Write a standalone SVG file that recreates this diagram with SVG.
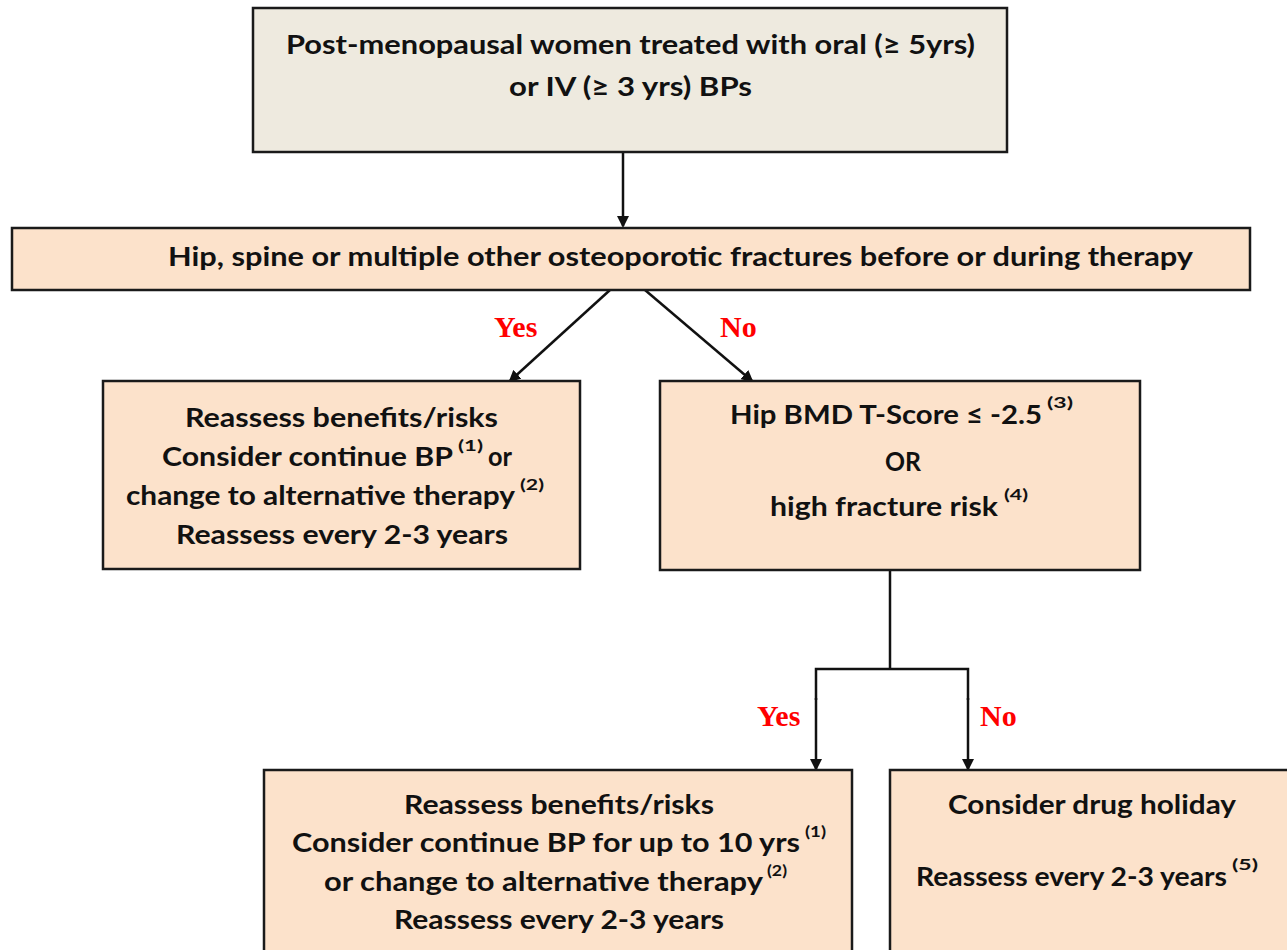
<svg xmlns="http://www.w3.org/2000/svg" width="1287" height="950" viewBox="0 0 1287 950">
  <style>
    .box { stroke: #1a1a1a; stroke-width: 2.5; }
    .grey { fill: #eeeadf; }
    .peach { fill: #fce2cb; }
    .t { font-family: Lato, "Liberation Sans", sans-serif; font-weight: bold; font-size: 26px; fill: #111; text-anchor: start; }
    .sup { font-family: Lato, "Liberation Sans", sans-serif; font-weight: bold; font-size: 15px; fill: #111; }
    .lbl { font-family: "Liberation Serif", serif; font-weight: bold; font-size: 30px; fill: #ff0000; }
    .wire { stroke: #111; stroke-width: 2.5; fill: none; }
  </style>
  <defs>
    <marker id="arrow" markerWidth="12" markerHeight="12" refX="10" refY="6" orient="auto" markerUnits="userSpaceOnUse">
      <path d="M0,0 L12,6 L0,12 Z" fill="#111"/>
    </marker>
  </defs>
  <rect width="1287" height="950" fill="#ffffff"/>

  <!-- connectors -->
  <g id="connectors">
    <line class="wire" x1="623" y1="152" x2="623" y2="226" marker-end="url(#arrow)"/>
    <line class="wire" x1="610" y1="290" x2="510" y2="381" marker-end="url(#arrow)"/>
    <line class="wire" x1="645" y1="290" x2="752" y2="381" marker-end="url(#arrow)"/>
    <polyline class="wire" points="890,570 890,668"/>
    <polyline class="wire" points="816,700 816,669 968,669 968,700"/>
    <line class="wire" x1="816" y1="698" x2="816" y2="769" marker-end="url(#arrow)"/>
    <line class="wire" x1="968" y1="698" x2="968" y2="769" marker-end="url(#arrow)"/>
    <text class="lbl" x="494" y="337">Yes</text>
    <text class="lbl" x="720" y="337">No</text>
    <text class="lbl" x="757" y="726">Yes</text>
    <text class="lbl" x="980" y="726">No</text>
  </g>

  <!-- start: population -->
  <g id="node-population">
    <rect class="box grey" x="253" y="8" width="754" height="144"/>
    <text class="t" x="286" y="54" textLength="689" lengthAdjust="spacingAndGlyphs">Post-menopausal women treated with oral (≥ 5yrs)</text>
    <text class="t" x="509" y="96" textLength="243" lengthAdjust="spacingAndGlyphs">or IV (≥ 3 yrs) BPs</text>
  </g>

  <!-- decision: prior fractures -->
  <g id="node-fractures">
    <rect class="box peach" x="12" y="228" width="1238" height="62"/>
    <text class="t" x="168" y="266" textLength="1025" lengthAdjust="spacingAndGlyphs">Hip, spine or multiple other osteoporotic fractures before or during therapy</text>
  </g>

  <!-- yes branch: continue or change -->
  <g id="node-continue">
    <rect class="box peach" x="103" y="381" width="477" height="188"/>
    <text class="t" x="185" y="427" textLength="313" lengthAdjust="spacingAndGlyphs">Reassess benefits/risks</text>
    <text class="t" x="162" y="466" textLength="291" lengthAdjust="spacingAndGlyphs">Consider continue BP</text>
    <text class="sup" x="458" y="451" textLength="25" lengthAdjust="spacingAndGlyphs">(1)</text>
    <text class="t" x="488" y="466" textLength="24" lengthAdjust="spacingAndGlyphs">or</text>
    <text class="t" x="126" y="505" textLength="389" lengthAdjust="spacingAndGlyphs">change to alternative therapy</text>
    <text class="sup" x="520" y="490" textLength="24" lengthAdjust="spacingAndGlyphs">(2)</text>
    <text class="t" x="176" y="544" textLength="332" lengthAdjust="spacingAndGlyphs">Reassess every 2-3 years</text>
  </g>

  <!-- no branch: BMD / risk check -->
  <g id="node-bmd">
    <rect class="box peach" x="660" y="381" width="480" height="189"/>
    <text class="t" x="730" y="424" textLength="312" lengthAdjust="spacingAndGlyphs">Hip BMD T-Score ≤ -2.5</text>
    <text class="sup" x="1047" y="408" textLength="26" lengthAdjust="spacingAndGlyphs">(3)</text>
    <text class="t" x="885" y="471" textLength="36" lengthAdjust="spacingAndGlyphs">OR</text>
    <text class="t" x="770" y="516" textLength="228" lengthAdjust="spacingAndGlyphs">high fracture risk</text>
    <text class="sup" x="1004" y="500" textLength="24" lengthAdjust="spacingAndGlyphs">(4)</text>
  </g>

  <!-- high risk: continue up to 10 yrs -->
  <g id="node-continue-10">
    <rect class="box peach" x="264" y="770" width="588" height="190"/>
    <text class="t" x="404" y="814" textLength="310" lengthAdjust="spacingAndGlyphs">Reassess benefits/risks</text>
    <text class="t" x="292" y="852" textLength="508" lengthAdjust="spacingAndGlyphs">Consider continue BP for up to 10 yrs</text>
    <text class="sup" x="805" y="837" textLength="21" lengthAdjust="spacingAndGlyphs">(1)</text>
    <text class="t" x="324" y="891" textLength="439" lengthAdjust="spacingAndGlyphs">or change to alternative therapy</text>
    <text class="sup" x="767" y="876" textLength="20" lengthAdjust="spacingAndGlyphs">(2)</text>
    <text class="t" x="394" y="929" textLength="330" lengthAdjust="spacingAndGlyphs">Reassess every 2-3 years</text>
  </g>

  <!-- low risk: drug holiday -->
  <g id="node-holiday">
    <rect class="box peach" x="890" y="770" width="410" height="190"/>
    <text class="t" x="948" y="814" textLength="288" lengthAdjust="spacingAndGlyphs">Consider drug holiday</text>
    <text class="t" x="916" y="886" textLength="311" lengthAdjust="spacingAndGlyphs">Reassess every 2-3 years</text>
    <text class="sup" x="1232" y="870" textLength="26" lengthAdjust="spacingAndGlyphs">(5)</text>
  </g>
</svg>
